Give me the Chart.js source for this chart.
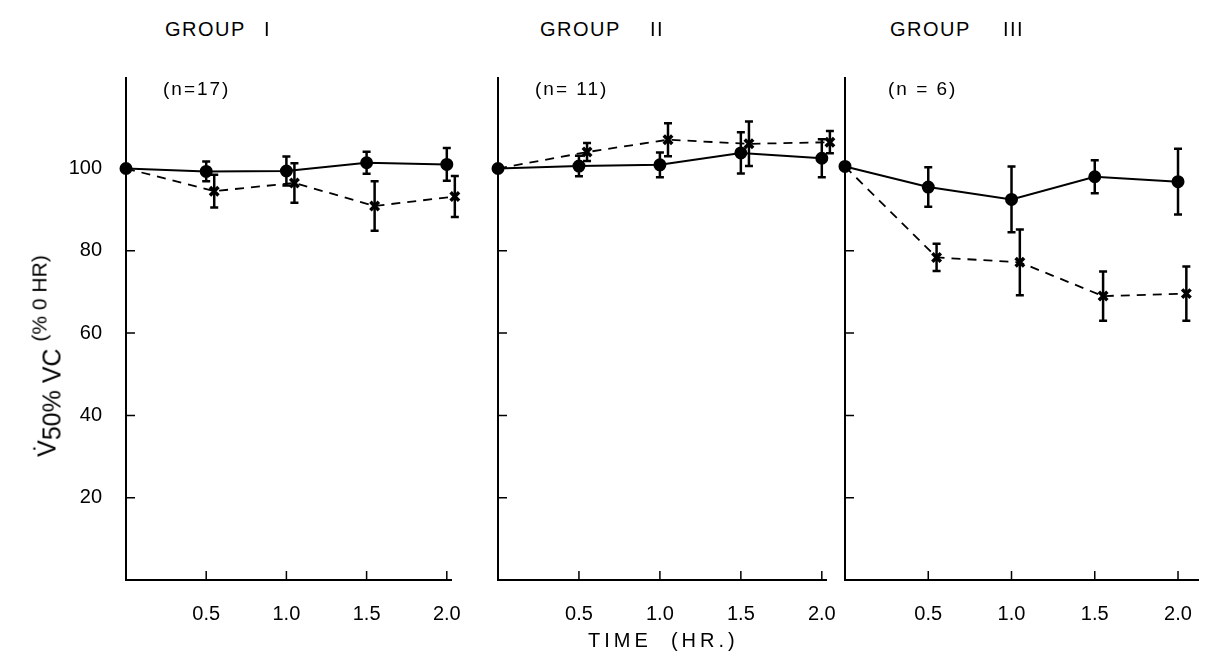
<!DOCTYPE html>
<html>
<head>
<meta charset="utf-8">
<script src="https://cdn.jsdelivr.net/npm/chart.js@4.4.0/dist/chart.umd.min.js"></script>
<style>
  body { margin: 0; background: #fff; }
  #wrap { position: relative; width: 1215px; height: 657px; overflow: hidden;
          font-family: "Liberation Sans", Arial, sans-serif; color: #000; }
  #wrap canvas { position: absolute; }
  .txt { position: absolute; white-space: pre; line-height: 1; }
  .title { font-size: 20px; letter-spacing: 1.5px; top: 19px; }
  .count { font-size: 19px; letter-spacing: 2px; top: 79px; }
</style>
</head>
<body>
<div id="wrap">
  <canvas id="g1" width="475" height="570" style="left:0;top:60px"></canvas>
  <canvas id="g2" width="362" height="570" style="left:488px;top:60px"></canvas>
  <canvas id="g3" width="380" height="570" style="left:835px;top:60px"></canvas>

  <div class="txt title" style="left:165px">GROUP</div>
  <div class="txt title" style="left:264px">I</div>
  <div class="txt count" style="left:163px">(n=17)</div>
  <div class="txt title" style="left:540px">GROUP</div>
  <div class="txt title" style="left:650px">II</div>
  <div class="txt count" style="left:535px">(n= 11)</div>
  <div class="txt title" style="left:890px">GROUP</div>
  <div class="txt title" style="left:1003px">III</div>
  <div class="txt count" style="left:888px">(n = 6)</div>

  <div class="txt" style="left:47px;top:356px;transform:translate(-50%,-50%) rotate(-90deg);font-size:25px">V&#x307;<span style="position:relative;top:5px">50% VC</span> <span style="font-size:21px;position:relative;top:-9px">(% 0 HR)</span></div>
  <div class="txt" style="left:588px;top:630px;font-size:20px;letter-spacing:4px">TIME  (HR.)</div>
</div>
<script>
// time points (hr) - dashed series is plotted slightly offset in the original
const timeSolid = [0, 0.5, 1.0, 1.5, 2.0];
const timeDashed = [0, 0.55, 1.05, 1.55, 2.05];

const g1Solid = [100, 99.3, 99.4, 101.4, 101.0];
const g1SolidErr = [0, 2.4, 3.5, 2.7, 4.0];
const g1Dashed = [100, 94.5, 96.5, 90.9, 93.2];
const g1DashedErr = [0, 4.0, 4.8, 6.0, 5.0];

const g2Solid = [100, 100.6, 100.9, 103.8, 102.5];
const g2SolidErr = [0, 2.5, 3.0, 5.0, 4.6];
const g2Dashed = [100, 104.0, 107.0, 106.0, 106.4];
const g2DashedErr = [0, 2.2, 4.0, 5.4, 2.7];

const g3Solid = [100.5, 95.5, 92.5, 98.0, 96.8];
const g3SolidErr = [0, 4.8, 8.0, 4.0, 8.0];
const g3Dashed = [100.5, 78.4, 77.2, 69.0, 69.6];
const g3DashedErr = [0, 3.3, 8.0, 6.0, 6.6];

const xTickValues = [0.5, 1.0, 1.5, 2.0];
const xTickLabels = ['0.5', '1.0', '1.5', '2.0'];
const yTickValues = [20, 40, 60, 80, 100];
const yTickLabels = ['20', '40', '60', '80', '100'];

const tickFont = { family: '"Liberation Sans", Arial, sans-serif', size: 20 };

// vertical SE bars with caps
const errorBars = {
    id: 'errorBars',
    afterDatasetsDraw(chart) {
        const { ctx } = chart;
        const y = chart.scales.y;
        chart.data.datasets.forEach((ds, i) => {
            const meta = chart.getDatasetMeta(i);
            ctx.save();
            ctx.strokeStyle = '#000';
            ctx.lineWidth = 2.5;
            ctx.beginPath();
            meta.data.forEach((pt, j) => {
                const err = ds.errors[j];
                if (!err) return;
                const top = y.getPixelForValue(ds.data[j].y + err);
                const bot = y.getPixelForValue(ds.data[j].y - err);
                ctx.moveTo(pt.x, top); ctx.lineTo(pt.x, bot);
                ctx.moveTo(pt.x - 4, top); ctx.lineTo(pt.x + 4, top);
                ctx.moveTo(pt.x - 4, bot); ctx.lineTo(pt.x + 4, bot);
            });
            ctx.stroke();
            ctx.restore();
        });
    }
};

// tick marks point into the plot area
const inwardTicks = {
    id: 'inwardTicks',
    afterDraw(chart) {
        const { ctx, chartArea } = chart;
        const { x, y } = chart.scales;
        ctx.save();
        ctx.strokeStyle = '#000';
        ctx.lineWidth = 1.5;
        ctx.beginPath();
        x.ticks.forEach(t => {
            const px = x.getPixelForValue(t.value);
            ctx.moveTo(px, chartArea.bottom);
            ctx.lineTo(px, chartArea.bottom - 9);
        });
        y.ticks.forEach(t => {
            if (t.value >= 100) return;
            const py = y.getPixelForValue(t.value);
            ctx.moveTo(chartArea.left, py);
            ctx.lineTo(chartArea.left + 9, py);
        });
        ctx.stroke();
        ctx.restore();
    }
};

function toPoints(xs, ys) {
    return xs.map((x, i) => ({ x, y: ys[i] }));
}

function createPanel(canvasId, solid, solidErr, dashed, dashedErr, opts) {
    new Chart(document.getElementById(canvasId), {
        type: 'line',
        data: {
            datasets: [
                {
                    data: toPoints(timeDashed, dashed),
                    errors: dashedErr,
                    borderColor: '#000',
                    borderWidth: 1.8,
                    borderDash: [9, 7],
                    pointStyle: 'crossRot',
                    pointRadius: [0, 6, 6, 6, 6],
                    pointBorderWidth: 3.5,
                    pointBorderColor: '#000',
                    clip: false
                },
                {
                    data: toPoints(timeSolid, solid),
                    errors: solidErr,
                    borderColor: '#000',
                    borderWidth: 2,
                    pointStyle: 'circle',
                    pointRadius: 5.5,
                    pointBackgroundColor: '#000',
                    pointBorderColor: '#000',
                    clip: false
                }
            ]
        },
        options: {
            responsive: false,
            animation: false,
            layout: { padding: { top: 18, right: opts.padRight, left: 0, bottom: 0 } },
            plugins: { legend: { display: false }, tooltip: { enabled: false } },
            scales: {
                x: {
                    type: 'linear',
                    min: 0,
                    max: opts.xMax,
                    afterBuildTicks: s => { s.ticks = xTickValues.map(v => ({ value: v })); },
                    afterFit: s => { s.height = 50; },
                    grid: { display: false },
                    border: { display: true, color: '#000', width: 2 },
                    ticks: {
                        callback: (v, i) => xTickLabels[i],
                        font: tickFont,
                        color: '#000',
                        padding: 14,
                        maxRotation: 0,
                        autoSkip: false
                    }
                },
                y: {
                    min: 0,
                    max: 122,
                    afterBuildTicks: s => { s.ticks = yTickValues.map(v => ({ value: v })); },
                    afterFit: s => {
                        s.width = opts.yWidth;
                        s.paddingTop = 0;
                        s.paddingBottom = 0;
                    },
                    grid: { display: false },
                    border: { display: true, color: '#000', width: 2 },
                    ticks: {
                        display: opts.showY,
                        callback: (v, i) => yTickLabels[i],
                        font: tickFont,
                        color: '#000',
                        padding: 16
                    }
                }
            }
        },
        plugins: [errorBars, inwardTicks]
    });
}

createPanel('g1', g1Solid, g1SolidErr, g1Dashed, g1DashedErr, { xMax: 2.03, yWidth: 126, showY: true, padRight: 20 });
createPanel('g2', g2Solid, g2SolidErr, g2Dashed, g2DashedErr, { xMax: 2.03, yWidth: 10, showY: false, padRight: 20 });
createPanel('g3', g3Solid, g3SolidErr, g3Dashed, g3DashedErr, { xMax: 2.12, yWidth: 10, showY: false, padRight: 17 });
</script>
</body>
</html>
